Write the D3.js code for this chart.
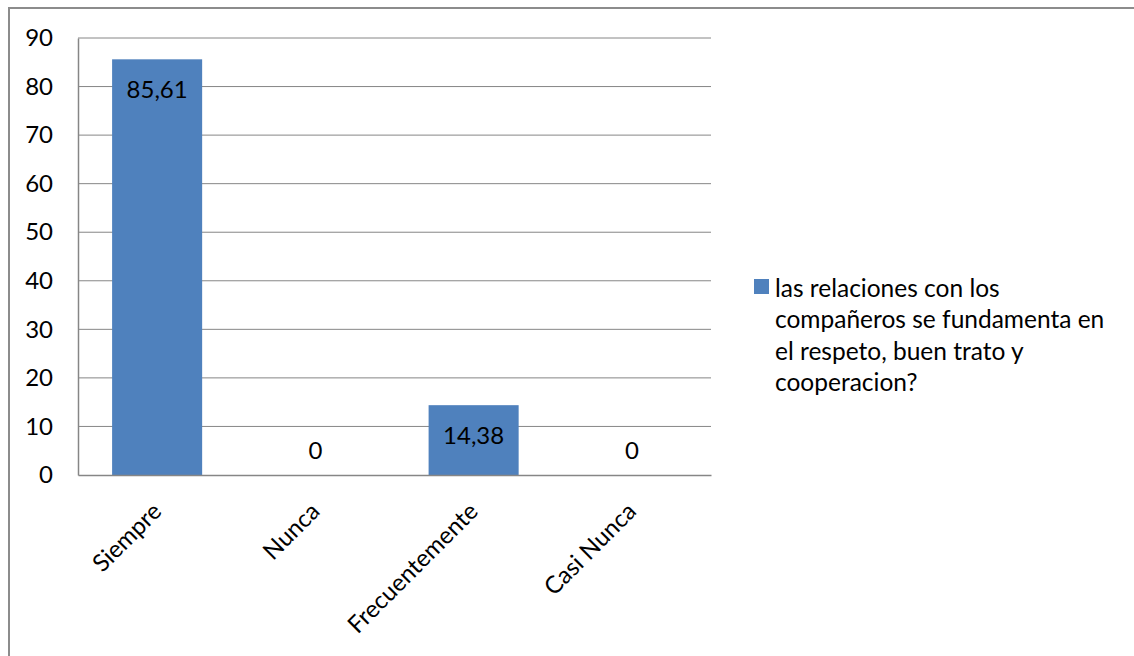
<!DOCTYPE html>
<html>
<head>
<meta charset="utf-8">
<script src="https://cdn.jsdelivr.net/npm/d3@7"></script>
<style>
  html, body { margin: 0; padding: 0; background: #fff; }
  svg { display: block; font-family: Lato, "Open Sans", sans-serif; }
</style>
</head>
<body>
<svg id="chart" width="1134" height="656"></svg>
<script>
// Survey answers and their percentages
const categories = ["Siempre", "Nunca", "Frecuentemente", "Casi Nunca"];
const values = [85.61, 0, 14.38, 0];
const valueLabels = ["85,61", "0", "14,38", "0"];
const yTicks = [0, 10, 20, 30, 40, 50, 60, 70, 80, 90];
const seriesName = ["las relaciones con los", "compañeros se fundamenta en", "el respeto, buen trato y", "cooperacion?"];

const svg = d3.select("#chart");
const plot = { left: 78, right: 711, top: 38, bottom: 475 };
const barColor = "#4F81BD";
const gridColor = "#868686";
const fontSize = 24;

// Outer chart frame
svg.append("rect")
  .attr("x", 9).attr("y", 8)
  .attr("width", 1200).attr("height", 700)
  .attr("fill", "none").attr("stroke", "#8c8c8c").attr("stroke-width", 2);

const x = d3.scaleBand().domain(categories).range([plot.left, plot.right]).paddingInner(0.431).paddingOuter(0.2155);
const y = d3.scaleLinear().domain([0, 90]).range([plot.bottom, plot.top]);

// Horizontal gridlines
svg.append("g").selectAll("line").data(yTicks.filter(t => t > 0)).join("line")
  .attr("x1", plot.left).attr("x2", plot.right)
  .attr("y1", d => y(d)).attr("y2", d => y(d))
  .attr("stroke", gridColor).attr("stroke-width", 1);

// Bars
svg.append("g").selectAll("rect").data(values).join("rect")
  .attr("x", (d, i) => x(categories[i]))
  .attr("y", d => y(d))
  .attr("width", x.bandwidth())
  .attr("height", d => y(0) - y(d))
  .attr("fill", barColor);

// Y axis
const yAxis = d3.axisLeft(y).tickValues(yTicks).tickSize(0).tickPadding(25).tickFormat(d3.format("d"));
const gy = svg.append("g").attr("transform", `translate(${plot.left},0)`).call(yAxis);
gy.select(".domain").attr("stroke", gridColor).attr("stroke-width", 1.5);
gy.selectAll("text").attr("font-size", fontSize).attr("fill", "#000").attr("font-family", "Lato, sans-serif");

// X axis baseline
const xAxis = d3.axisBottom(x).tickSize(0).tickFormat(() => "");
const gx = svg.append("g").attr("transform", `translate(0,${plot.bottom})`).call(xAxis);
gx.select(".domain").attr("stroke", gridColor).attr("stroke-width", 1.5);

// Rotated category labels
svg.append("g").selectAll("text").data(categories).join("text")
  .attr("transform", d => `translate(${x(d) + x.bandwidth() / 2 - 6},${plot.bottom + 26}) rotate(-45)`)
  .attr("text-anchor", "end")
  .attr("dy", "0.7em")
  .attr("font-size", fontSize)
  .attr("fill", "#000")
  .text(d => d);

// Value labels
svg.append("g").selectAll("text").data(values).join("text")
  .attr("x", (d, i) => x(categories[i]) + x.bandwidth() / 2)
  .attr("y", d => d > 0 ? y(d) + 29 : y(0) - 26)
  .attr("text-anchor", "middle")
  .attr("dominant-baseline", "central")
  .attr("font-size", fontSize)
  .attr("fill", "#000")
  .text((d, i) => valueLabels[i]);

// Legend
const legend = svg.append("g").attr("transform", "translate(754,279)");
legend.append("rect").attr("x", 0).attr("y", 0).attr("width", 15).attr("height", 15).attr("fill", barColor);
legend.append("text")
  .attr("font-size", 24.5)
  .attr("fill", "#000")
  .selectAll("tspan").data(seriesName).join("tspan")
  .attr("x", 21)
  .attr("y", (d, i) => 8 + i * 31.5)
  .attr("dominant-baseline", "central")
  .text(d => d);
</script>
</body>
</html>
